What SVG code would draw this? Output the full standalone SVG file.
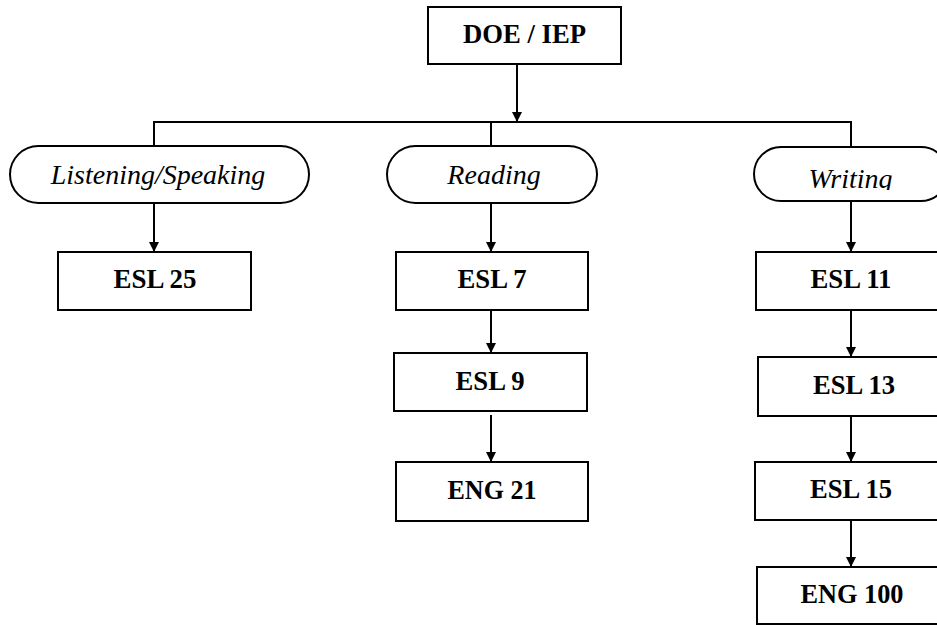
<svg xmlns="http://www.w3.org/2000/svg" width="937" height="625" viewBox="0 0 937 625">
<style>
.box{fill:#fff;stroke:#000;stroke-width:2}
.pill{fill:#fff;stroke:#000;stroke-width:2}
.b{font-family:"Liberation Serif","Times New Roman",serif;font-weight:bold;font-size:28px;text-anchor:middle;fill:#000}
.i{font-family:"Liberation Serif","Times New Roman",serif;font-style:italic;font-size:28px;text-anchor:middle;fill:#000}
.ln{fill:none;stroke:#000;stroke-width:2}
</style>
<defs>
<marker id="ah" viewBox="0 0 10 10" refX="10" refY="5" markerWidth="10" markerHeight="10" markerUnits="userSpaceOnUse" orient="auto">
<path d="M0,0 L10,5 L0,10 Z" fill="#000"/>
</marker>
<clipPath id="wclip"><rect x="754" y="150" width="200" height="40"/></clipPath>
</defs>
<rect width="937" height="625" fill="#fff"/>
<g id="connectors">
<line class="ln" x1="517" y1="64" x2="517" y2="122" marker-end="url(#ah)"/>
<polyline class="ln" points="154,146 154,122 851,122 851,147"/>
<line class="ln" x1="491" y1="122" x2="491" y2="146"/>
<line class="ln" x1="154" y1="203" x2="154" y2="252" marker-end="url(#ah)"/>
<line class="ln" x1="491" y1="203" x2="491" y2="252" marker-end="url(#ah)"/>
<line class="ln" x1="851" y1="201" x2="851" y2="252" marker-end="url(#ah)"/>
<line class="ln" x1="491" y1="310" x2="491" y2="353" marker-end="url(#ah)"/>
<line class="ln" x1="491" y1="415" x2="491" y2="462" marker-end="url(#ah)"/>
<line class="ln" x1="851" y1="310" x2="851" y2="357" marker-end="url(#ah)"/>
<line class="ln" x1="851" y1="416" x2="851" y2="462" marker-end="url(#ah)"/>
<line class="ln" x1="851" y1="520" x2="851" y2="567" marker-end="url(#ah)"/>
</g>
<g id="doe"><rect class="box" x="428" y="7" width="193" height="57"/><text class="b" x="524.5" y="43" textLength="123" lengthAdjust="spacingAndGlyphs">DOE / IEP</text></g>
<g id="listening"><rect class="pill" x="10" y="146" width="299" height="57" rx="28.5" ry="28.5"/><text class="i" x="158" y="184">Listening/Speaking</text></g>
<g id="reading"><rect class="pill" x="387" y="146" width="210" height="57" rx="28.5" ry="28.5"/><text class="i" x="494" y="184">Reading</text></g>
<g id="writing"><rect class="pill" x="754" y="147" width="194" height="54" rx="27" ry="27"/><text class="i" x="850.5" y="188" clip-path="url(#wclip)">Writing</text></g>
<g id="esl25"><rect class="box" x="58" y="252" width="193" height="58"/><text class="b" x="155" y="288" textLength="83" lengthAdjust="spacingAndGlyphs">ESL 25</text></g>
<g id="esl7"><rect class="box" x="396" y="252" width="192" height="58"/><text class="b" x="492" y="288" textLength="69" lengthAdjust="spacingAndGlyphs">ESL 7</text></g>
<g id="esl9"><rect class="box" x="394" y="353" width="193" height="58"/><text class="b" x="490" y="390" textLength="69" lengthAdjust="spacingAndGlyphs">ESL 9</text></g>
<g id="eng21"><rect class="box" x="396" y="462" width="192" height="59"/><text class="b" x="492" y="499" textLength="89" lengthAdjust="spacingAndGlyphs">ENG 21</text></g>
<g id="esl11"><rect class="box" x="756" y="252" width="192" height="58"/><text class="b" x="851" y="288" textLength="81" lengthAdjust="spacingAndGlyphs">ESL 11</text></g>
<g id="esl13"><rect class="box" x="758" y="357" width="192" height="59"/><text class="b" x="854" y="394" textLength="82" lengthAdjust="spacingAndGlyphs">ESL 13</text></g>
<g id="esl15"><rect class="box" x="755" y="462" width="192" height="58"/><text class="b" x="851" y="498" textLength="82" lengthAdjust="spacingAndGlyphs">ESL 15</text></g>
<g id="eng100"><rect class="box" x="757" y="567" width="192" height="57"/><text class="b" x="852" y="603" textLength="103" lengthAdjust="spacingAndGlyphs">ENG 100</text></g>
</svg>
